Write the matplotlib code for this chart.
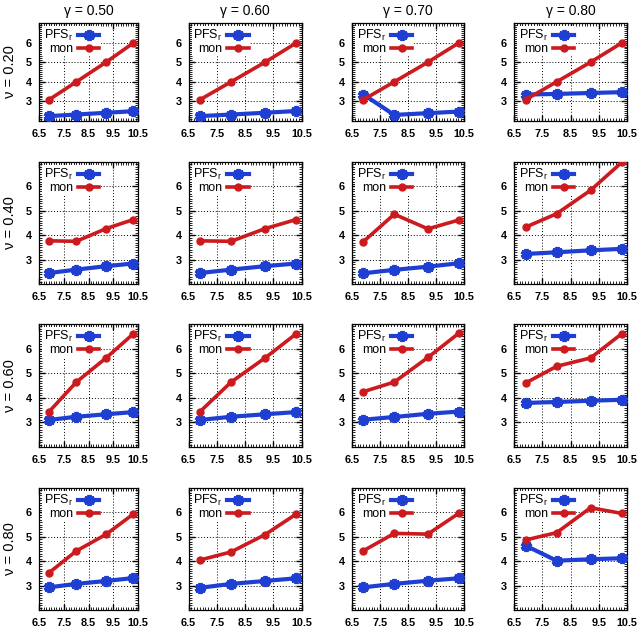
import numpy as np
import matplotlib
matplotlib.use('Agg')
import matplotlib.pyplot as plt
from matplotlib.ticker import MultipleLocator

plt.rcParams['font.family'] = ['Liberation Sans', 'DejaVu Sans']
plt.rcParams['mathtext.default'] = 'regular'

# x values (same for every panel)
x = [6.91, 8.01, 9.21, 10.31]

gammas = ['0.50', '0.60', '0.70', '0.80']
nus = ['0.20', '0.40', '0.60', '0.80']

# one list per row (nu), four panels each (gamma 0.5 .. 0.8)
pfs_v020 = [[2.25, 2.33, 2.42, 2.50],
            [2.25, 2.33, 2.42, 2.51],
            [3.35, 2.31, 2.40, 2.48],
            [3.35, 3.38, 3.43, 3.47]]
mon_v020 = [[3.09, 4.00, 5.00, 5.98],
            [3.09, 4.00, 5.00, 5.98],
            [3.09, 4.00, 5.00, 5.98],
            [3.09, 4.00, 5.00, 5.98]]

pfs_v040 = [[2.45, 2.59, 2.73, 2.84],
            [2.45, 2.59, 2.73, 2.84],
            [2.44, 2.58, 2.71, 2.85],
            [3.23, 3.30, 3.38, 3.44]]
mon_v040 = [[3.77, 3.75, 4.27, 4.64],
            [3.77, 3.75, 4.27, 4.64],
            [3.74, 4.86, 4.26, 4.62],
            [4.33, 4.88, 5.84, 6.98]]

pfs_v060 = [[3.10, 3.23, 3.33, 3.42],
            [3.10, 3.23, 3.33, 3.42],
            [3.11, 3.22, 3.35, 3.44],
            [3.79, 3.83, 3.88, 3.92]]
mon_v060 = [[3.44, 4.64, 5.62, 6.60],
            [3.44, 4.64, 5.62, 6.60],
            [4.25, 4.64, 5.64, 6.62],
            [4.60, 5.28, 5.62, 6.60]]

pfs_v080 = [[2.93, 3.07, 3.19, 3.31],
            [2.91, 3.07, 3.19, 3.30],
            [2.93, 3.07, 3.20, 3.30],
            [4.64, 4.02, 4.08, 4.12]]
mon_v080 = [[3.53, 4.42, 5.10, 5.93],
            [4.05, 4.38, 5.09, 5.93],
            [4.43, 5.14, 5.11, 5.96],
            [4.87, 5.17, 6.19, 5.96]]

pfs_all = [pfs_v020, pfs_v040, pfs_v060, pfs_v080]
mon_all = [mon_v020, mon_v040, mon_v060, mon_v080]

blue = '#1f3fd2'
red = '#cc1a1e'

W, H = 640, 628
fig = plt.figure(figsize=(6.4, 6.28), dpi=100)

# panel boxes in pixels
cols = [(39, 138), (188.5, 301.5), (352, 464), (514, 627)]
rows = [(23, 121), (162, 284), (324, 447), (488, 610)]

for i in range(4):
	for j in range(4):
		x0, x1 = cols[j]
		y0, y1 = rows[i]
		ax = fig.add_axes([x0 / W, 1 - y1 / H, (x1 - x0) / W, (y1 - y0) / H])

		ax.plot(x, pfs_all[i][j], color=blue, lw=3.0, marker=(6, 2, 0), ms=8, mew=2.8,
			label='PFS$_r$', zorder=3)
		ax.plot(x, mon_all[i][j], color=red, lw=2.6, marker='o', ms=5,
			label='mon', zorder=4)

		ax.set_xlim(6.5, 10.5)
		ax.set_ylim(2, 7)
		ax.set_xticks([6.5, 7.5, 8.5, 9.5, 10.5])
		ax.set_xticklabels(['6.5', '7.5', '8.5', '9.5', '10.5'])
		ax.set_yticks([3, 4, 5, 6])
		ax.xaxis.set_minor_locator(MultipleLocator(0.1))
		ax.yaxis.set_minor_locator(MultipleLocator(0.1))
		ax.tick_params(which='both', direction='in', top=True, right=True)
		ax.tick_params(which='major', length=4, width=1, labelsize=7.8)
		ax.tick_params(axis='x', which='major', pad=5.5)
		ax.tick_params(axis='y', which='major', pad=5)
		ax.tick_params(which='minor', length=2, width=0.6)
		for lab in ax.get_xticklabels() + ax.get_yticklabels():
			lab.set_fontweight('bold')
		ax.grid(True, which='major', color='black', linestyle=(0, (1, 2)), lw=0.7)
		for s in ax.spines.values():
			s.set_linewidth(0.9)

		leg = ax.legend(loc='upper left', markerfirst=False, frameon=True, fancybox=False,
			borderaxespad=0.25, borderpad=0.12, labelspacing=0.0, handlelength=1.7,
			handleheight=0.5, handletextpad=0.4, fontsize=9)
		leg.get_frame().set_facecolor('white')
		leg.get_frame().set_edgecolor('none')
		leg.get_frame().set_alpha(1)
		# above the grid, under the data lines
		leg.set_zorder(2.5)

		if i == 0:
			ax.set_title('γ = ' + gammas[j], fontsize=10, pad=6)

for i in range(4):
	y0, y1 = rows[i]
	fig.text(10 / W, 1 - (y0 + y1) / 2 / H, 'ν = ' + nus[i], rotation=90,
		ha='center', va='center', fontsize=10.5)

fig.savefig('out.png', dpi=100)
